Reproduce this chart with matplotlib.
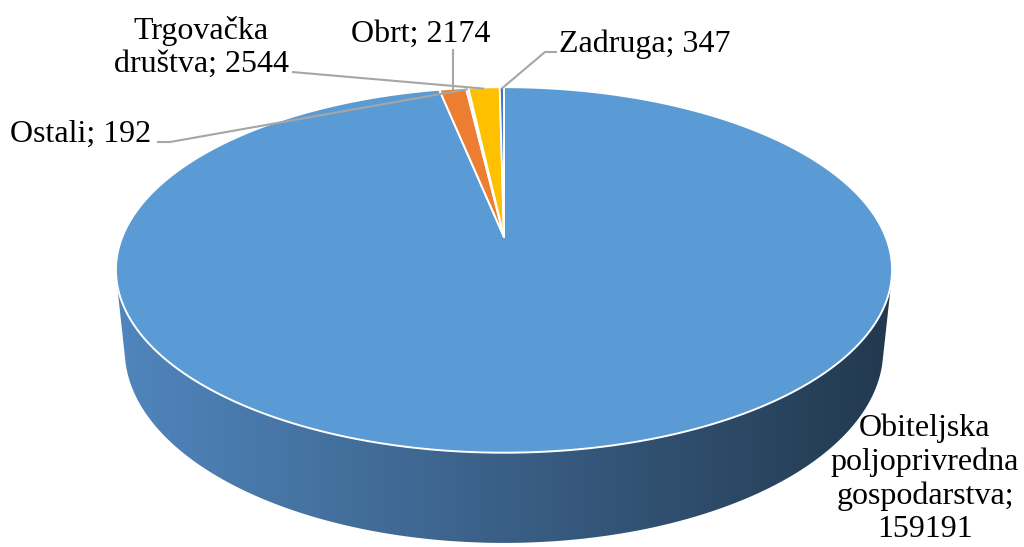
import numpy as np
import matplotlib
matplotlib.use('Agg')
import matplotlib.pyplot as plt
from matplotlib.patches import Polygon
from matplotlib.colors import LinearSegmentedColormap

# ---- data ----
categories = ['Obiteljska poljoprivredna gospodarstva', 'Obrt', 'Ostali',
              'Trgovačka društva', 'Zadruga']
values = [159191, 2174, 192, 2544, 347]
label_texts = ['Obiteljska\npoljoprivredna\ngospodarstva;\n159191',
               'Obrt; 2174', 'Ostali; 192', 'Trgovačka\ndruštva; 2544',
               'Zadruga; 347']
colors = ['#5B9BD5', '#ED7D31', '#A5A5A5', '#FFC000', '#4472C4']

# ---- 3D projection (camera) ----
U0, V0 = 504, 237
F = 1878.0
D = 4.92
ELEV = np.deg2rad(27.6)
T = 0.239


def proj(theta, z=0.0, r=1.0):
    X = r * np.sin(theta)
    Y = -r * np.cos(theta)
    den = D - Y * np.cos(ELEV) - z * np.sin(ELEV)
    u = U0 + F * X / den
    v = V0 + F * (Y * np.sin(ELEV) - z * np.cos(ELEV)) / den
    return u, v


def convex_hull(pts):
    pts = sorted(map(tuple, pts))
    def cross(o, a, b):
        return (a[0]-o[0])*(b[1]-o[1]) - (a[1]-o[1])*(b[0]-o[0])
    lower, upper = [], []
    for p in pts:
        while len(lower) >= 2 and cross(lower[-2], lower[-1], p) <= 0:
            lower.pop()
        lower.append(p)
    for p in reversed(pts):
        while len(upper) >= 2 and cross(upper[-2], upper[-1], p) <= 0:
            upper.pop()
        upper.append(p)
    return np.array(lower[:-1] + upper[:-1])


fig = plt.figure(figsize=(10.24, 5.47), dpi=100)
ax = fig.add_axes([0, 0, 1, 1])
ax.set_axis_off()

# side of the cylinder
th = np.linspace(0, 2*np.pi, 1440)
tu, tv = proj(th, 0.0)
bu, bv = proj(th, -T)
hull = convex_hull(np.column_stack([np.r_[tu, bu], np.r_[tv, bv]]))
side = Polygon(hull, closed=True, facecolor='none', edgecolor='none')
ax.add_patch(side)
cmap = LinearSegmentedColormap.from_list('side', ['#5086BD', '#3A5F86', '#22394F'])
grad = np.linspace(0, 1, 256).reshape(1, -1)
im = ax.imshow(grad, cmap=cmap, aspect='auto',
               extent=(hull[:, 0].min(), hull[:, 0].max(), hull[:, 1].max(), hull[:, 1].min()),
               zorder=1)
im.set_clip_path(side)

# top face slices
total = float(sum(values))
angles = np.cumsum([0] + [v / total * 2*np.pi for v in values])
apex = proj(0.0, 0.0, 0.0)
mids = []
for i, c in enumerate(colors):
    a0, a1 = angles[i], angles[i+1]
    n = max(3, int((a1 - a0) / (2*np.pi) * 1440))
    t = np.linspace(a0, a1, n)
    u, v = proj(t)
    poly = np.column_stack([np.r_[apex[0], u], np.r_[apex[1], v]])
    ax.add_patch(Polygon(poly, closed=True, facecolor=c, edgecolor='white',
                         lw=1.4, joinstyle='round', zorder=2))
    mids.append((a0 + a1) / 2)

# labels (va='baseline' on multi-line text aligns the last line)
font = dict(family='Liberation Serif', size=23, color='black')
ax.text(925, 537, label_texts[0], ha='center', va='baseline', linespacing=1.19, **font)
ax.text(421, 42, label_texts[1], ha='center', va='baseline', **font)
ax.text(81, 142, label_texts[2], ha='center', va='baseline', **font)
ax.text(201, 72, label_texts[3], ha='center', va='baseline', linespacing=1.19, **font)
ax.text(645, 52, label_texts[4], ha='center', va='baseline', **font)

# leader lines
lc = dict(color='#A6A6A6', lw=1.5, zorder=3, solid_capstyle='butt')
e = proj(mids[1], r=0.99)
ax.plot([e[0], e[0]], [49, e[1]], **lc)
e = proj(mids[2], r=0.99)
ax.plot([157, 170, e[0]], [142, 142, e[1]], **lc)
e = proj(mids[3], r=0.99)
ax.plot([292, e[0]], [72, e[1]], **lc)
e = proj(mids[4], r=0.99)
ax.plot([557, 545, e[0]], [52, 52, e[1]], **lc)

ax.set_xlim(0, 1024)
ax.set_ylim(547, 0)
fig.savefig('out.png', dpi=100, facecolor='white')
